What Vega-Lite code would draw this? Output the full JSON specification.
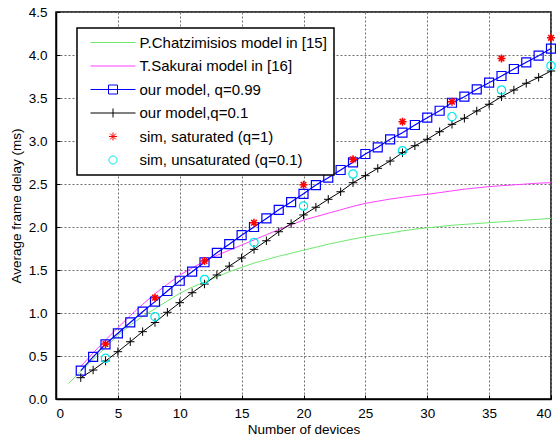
{
  "$schema": "https://vega.github.io/schema/vega-lite/v6.json",
  "width": 495,
  "height": 387,
  "autosize": {"type": "none"},
  "padding": {"left": 56, "top": 12, "right": 5, "bottom": 41},
  "background": "white",
  "config": {
    "font": "Liberation Sans",
    "view": {"stroke": "black", "strokeWidth": 1.5},
    "axis": {
      "grid": true, "gridColor": "#6e6e6e", "gridDash": [2, 2], "gridWidth": 1, "gridOpacity": 1,
      "domainColor": "black", "domainWidth": 1.5, "tickColor": "black", "tickSize": -4,
      "labelColor": "black", "titleColor": "black", "labelFontSize": 13.5, "titleFontSize": 13.5,
      "titleFontWeight": "normal", "labelFont": "Liberation Sans", "titleFont": "Liberation Sans"
    },
    "legend": {"strokeWidth": 1.5}
  },
  "datasets": {
    "d": [
      {"series": "P.Chatzimisios model in [15]", "n": 1, "delay": 0.18},
      {"series": "P.Chatzimisios model in [15]", "n": 2, "delay": 0.32},
      {"series": "P.Chatzimisios model in [15]", "n": 3, "delay": 0.46},
      {"series": "P.Chatzimisios model in [15]", "n": 4, "delay": 0.6},
      {"series": "P.Chatzimisios model in [15]", "n": 5, "delay": 0.74},
      {"series": "P.Chatzimisios model in [15]", "n": 6, "delay": 0.86},
      {"series": "P.Chatzimisios model in [15]", "n": 7, "delay": 0.96},
      {"series": "P.Chatzimisios model in [15]", "n": 8, "delay": 1.05},
      {"series": "P.Chatzimisios model in [15]", "n": 9, "delay": 1.14},
      {"series": "P.Chatzimisios model in [15]", "n": 10, "delay": 1.23},
      {"series": "P.Chatzimisios model in [15]", "n": 11, "delay": 1.3},
      {"series": "P.Chatzimisios model in [15]", "n": 12, "delay": 1.36},
      {"series": "P.Chatzimisios model in [15]", "n": 13, "delay": 1.42},
      {"series": "P.Chatzimisios model in [15]", "n": 14, "delay": 1.48},
      {"series": "P.Chatzimisios model in [15]", "n": 15, "delay": 1.53},
      {"series": "P.Chatzimisios model in [15]", "n": 16, "delay": 1.58},
      {"series": "P.Chatzimisios model in [15]", "n": 17, "delay": 1.62},
      {"series": "P.Chatzimisios model in [15]", "n": 18, "delay": 1.66},
      {"series": "P.Chatzimisios model in [15]", "n": 19, "delay": 1.695},
      {"series": "P.Chatzimisios model in [15]", "n": 20, "delay": 1.73},
      {"series": "P.Chatzimisios model in [15]", "n": 21, "delay": 1.765},
      {"series": "P.Chatzimisios model in [15]", "n": 22, "delay": 1.8},
      {"series": "P.Chatzimisios model in [15]", "n": 23, "delay": 1.83},
      {"series": "P.Chatzimisios model in [15]", "n": 24, "delay": 1.86},
      {"series": "P.Chatzimisios model in [15]", "n": 25, "delay": 1.887},
      {"series": "P.Chatzimisios model in [15]", "n": 26, "delay": 1.91},
      {"series": "P.Chatzimisios model in [15]", "n": 27, "delay": 1.93},
      {"series": "P.Chatzimisios model in [15]", "n": 28, "delay": 1.955},
      {"series": "P.Chatzimisios model in [15]", "n": 29, "delay": 1.975},
      {"series": "P.Chatzimisios model in [15]", "n": 30, "delay": 1.99},
      {"series": "P.Chatzimisios model in [15]", "n": 31, "delay": 2.005},
      {"series": "P.Chatzimisios model in [15]", "n": 32, "delay": 2.02},
      {"series": "P.Chatzimisios model in [15]", "n": 33, "delay": 2.03},
      {"series": "P.Chatzimisios model in [15]", "n": 34, "delay": 2.04},
      {"series": "P.Chatzimisios model in [15]", "n": 35, "delay": 2.05},
      {"series": "P.Chatzimisios model in [15]", "n": 36, "delay": 2.06},
      {"series": "P.Chatzimisios model in [15]", "n": 37, "delay": 2.07},
      {"series": "P.Chatzimisios model in [15]", "n": 38, "delay": 2.08},
      {"series": "P.Chatzimisios model in [15]", "n": 39, "delay": 2.09},
      {"series": "P.Chatzimisios model in [15]", "n": 40, "delay": 2.1},
      {"series": "T.Sakurai model in [16]", "n": 2, "delay": 0.38},
      {"series": "T.Sakurai model in [16]", "n": 3, "delay": 0.535},
      {"series": "T.Sakurai model in [16]", "n": 4, "delay": 0.685},
      {"series": "T.Sakurai model in [16]", "n": 5, "delay": 0.83},
      {"series": "T.Sakurai model in [16]", "n": 6, "delay": 0.97},
      {"series": "T.Sakurai model in [16]", "n": 7, "delay": 1.1},
      {"series": "T.Sakurai model in [16]", "n": 8, "delay": 1.225},
      {"series": "T.Sakurai model in [16]", "n": 9, "delay": 1.335},
      {"series": "T.Sakurai model in [16]", "n": 10, "delay": 1.44},
      {"series": "T.Sakurai model in [16]", "n": 11, "delay": 1.525},
      {"series": "T.Sakurai model in [16]", "n": 12, "delay": 1.6},
      {"series": "T.Sakurai model in [16]", "n": 13, "delay": 1.67},
      {"series": "T.Sakurai model in [16]", "n": 14, "delay": 1.73},
      {"series": "T.Sakurai model in [16]", "n": 15, "delay": 1.79},
      {"series": "T.Sakurai model in [16]", "n": 16, "delay": 1.85},
      {"series": "T.Sakurai model in [16]", "n": 17, "delay": 1.91},
      {"series": "T.Sakurai model in [16]", "n": 18, "delay": 1.97},
      {"series": "T.Sakurai model in [16]", "n": 19, "delay": 2.025},
      {"series": "T.Sakurai model in [16]", "n": 20, "delay": 2.08},
      {"series": "T.Sakurai model in [16]", "n": 21, "delay": 2.12},
      {"series": "T.Sakurai model in [16]", "n": 22, "delay": 2.16},
      {"series": "T.Sakurai model in [16]", "n": 23, "delay": 2.2},
      {"series": "T.Sakurai model in [16]", "n": 24, "delay": 2.24},
      {"series": "T.Sakurai model in [16]", "n": 25, "delay": 2.275},
      {"series": "T.Sakurai model in [16]", "n": 26, "delay": 2.3},
      {"series": "T.Sakurai model in [16]", "n": 27, "delay": 2.325},
      {"series": "T.Sakurai model in [16]", "n": 28, "delay": 2.345},
      {"series": "T.Sakurai model in [16]", "n": 29, "delay": 2.365},
      {"series": "T.Sakurai model in [16]", "n": 30, "delay": 2.38},
      {"series": "T.Sakurai model in [16]", "n": 31, "delay": 2.4},
      {"series": "T.Sakurai model in [16]", "n": 32, "delay": 2.42},
      {"series": "T.Sakurai model in [16]", "n": 33, "delay": 2.44},
      {"series": "T.Sakurai model in [16]", "n": 34, "delay": 2.455},
      {"series": "T.Sakurai model in [16]", "n": 35, "delay": 2.47},
      {"series": "T.Sakurai model in [16]", "n": 36, "delay": 2.48},
      {"series": "T.Sakurai model in [16]", "n": 37, "delay": 2.49},
      {"series": "T.Sakurai model in [16]", "n": 38, "delay": 2.5},
      {"series": "T.Sakurai model in [16]", "n": 39, "delay": 2.51},
      {"series": "T.Sakurai model in [16]", "n": 40, "delay": 2.515},
      {"series": "our model, q=0.99", "n": 2, "delay": 0.33},
      {"series": "our model, q=0.99", "n": 3, "delay": 0.49},
      {"series": "our model, q=0.99", "n": 4, "delay": 0.636},
      {"series": "our model, q=0.99", "n": 5, "delay": 0.764},
      {"series": "our model, q=0.99", "n": 6, "delay": 0.89},
      {"series": "our model, q=0.99", "n": 7, "delay": 1.015},
      {"series": "our model, q=0.99", "n": 8, "delay": 1.132},
      {"series": "our model, q=0.99", "n": 9, "delay": 1.256},
      {"series": "our model, q=0.99", "n": 10, "delay": 1.375},
      {"series": "our model, q=0.99", "n": 11, "delay": 1.48},
      {"series": "our model, q=0.99", "n": 12, "delay": 1.59},
      {"series": "our model, q=0.99", "n": 13, "delay": 1.7},
      {"series": "our model, q=0.99", "n": 14, "delay": 1.8},
      {"series": "our model, q=0.99", "n": 15, "delay": 1.905},
      {"series": "our model, q=0.99", "n": 16, "delay": 2.0},
      {"series": "our model, q=0.99", "n": 17, "delay": 2.1},
      {"series": "our model, q=0.99", "n": 18, "delay": 2.2},
      {"series": "our model, q=0.99", "n": 19, "delay": 2.29},
      {"series": "our model, q=0.99", "n": 20, "delay": 2.386},
      {"series": "our model, q=0.99", "n": 21, "delay": 2.488},
      {"series": "our model, q=0.99", "n": 22, "delay": 2.573},
      {"series": "our model, q=0.99", "n": 23, "delay": 2.663},
      {"series": "our model, q=0.99", "n": 24, "delay": 2.752},
      {"series": "our model, q=0.99", "n": 25, "delay": 2.849},
      {"series": "our model, q=0.99", "n": 26, "delay": 2.927},
      {"series": "our model, q=0.99", "n": 27, "delay": 3.02},
      {"series": "our model, q=0.99", "n": 28, "delay": 3.097},
      {"series": "our model, q=0.99", "n": 29, "delay": 3.186},
      {"series": "our model, q=0.99", "n": 30, "delay": 3.271},
      {"series": "our model, q=0.99", "n": 31, "delay": 3.352},
      {"series": "our model, q=0.99", "n": 32, "delay": 3.445},
      {"series": "our model, q=0.99", "n": 33, "delay": 3.515},
      {"series": "our model, q=0.99", "n": 34, "delay": 3.601},
      {"series": "our model, q=0.99", "n": 35, "delay": 3.678},
      {"series": "our model, q=0.99", "n": 36, "delay": 3.756},
      {"series": "our model, q=0.99", "n": 37, "delay": 3.837},
      {"series": "our model, q=0.99", "n": 38, "delay": 3.915},
      {"series": "our model, q=0.99", "n": 39, "delay": 3.992},
      {"series": "our model, q=0.99", "n": 40, "delay": 4.075},
      {"series": "our model,q=0.1", "n": 2, "delay": 0.248},
      {"series": "our model,q=0.1", "n": 3, "delay": 0.337},
      {"series": "our model,q=0.1", "n": 4, "delay": 0.442},
      {"series": "our model,q=0.1", "n": 5, "delay": 0.55},
      {"series": "our model,q=0.1", "n": 6, "delay": 0.666},
      {"series": "our model,q=0.1", "n": 7, "delay": 0.783},
      {"series": "our model,q=0.1", "n": 8, "delay": 0.89},
      {"series": "our model,q=0.1", "n": 9, "delay": 1.008},
      {"series": "our model,q=0.1", "n": 10, "delay": 1.12},
      {"series": "our model,q=0.1", "n": 11, "delay": 1.236},
      {"series": "our model,q=0.1", "n": 12, "delay": 1.337},
      {"series": "our model,q=0.1", "n": 13, "delay": 1.442},
      {"series": "our model,q=0.1", "n": 14, "delay": 1.545},
      {"series": "our model,q=0.1", "n": 15, "delay": 1.64},
      {"series": "our model,q=0.1", "n": 16, "delay": 1.74},
      {"series": "our model,q=0.1", "n": 17, "delay": 1.84},
      {"series": "our model,q=0.1", "n": 18, "delay": 1.945},
      {"series": "our model,q=0.1", "n": 19, "delay": 2.04},
      {"series": "our model,q=0.1", "n": 20, "delay": 2.14},
      {"series": "our model,q=0.1", "n": 21, "delay": 2.23},
      {"series": "our model,q=0.1", "n": 22, "delay": 2.322},
      {"series": "our model,q=0.1", "n": 23, "delay": 2.41},
      {"series": "our model,q=0.1", "n": 24, "delay": 2.515},
      {"series": "our model,q=0.1", "n": 25, "delay": 2.597},
      {"series": "our model,q=0.1", "n": 26, "delay": 2.682},
      {"series": "our model,q=0.1", "n": 27, "delay": 2.767},
      {"series": "our model,q=0.1", "n": 28, "delay": 2.864},
      {"series": "our model,q=0.1", "n": 29, "delay": 2.945},
      {"series": "our model,q=0.1", "n": 30, "delay": 3.02},
      {"series": "our model,q=0.1", "n": 31, "delay": 3.108},
      {"series": "our model,q=0.1", "n": 32, "delay": 3.194},
      {"series": "our model,q=0.1", "n": 33, "delay": 3.264},
      {"series": "our model,q=0.1", "n": 34, "delay": 3.349},
      {"series": "our model,q=0.1", "n": 35, "delay": 3.427},
      {"series": "our model,q=0.1", "n": 36, "delay": 3.515},
      {"series": "our model,q=0.1", "n": 37, "delay": 3.593},
      {"series": "our model,q=0.1", "n": 38, "delay": 3.671},
      {"series": "our model,q=0.1", "n": 39, "delay": 3.74},
      {"series": "our model,q=0.1", "n": 40, "delay": 3.814},
      {"series": "sim, saturated (q=1)", "n": 4, "delay": 0.64},
      {"series": "sim, saturated (q=1)", "n": 8, "delay": 1.178},
      {"series": "sim, saturated (q=1)", "n": 12, "delay": 1.605},
      {"series": "sim, saturated (q=1)", "n": 16, "delay": 2.05},
      {"series": "sim, saturated (q=1)", "n": 20, "delay": 2.49},
      {"series": "sim, saturated (q=1)", "n": 24, "delay": 2.787},
      {"series": "sim, saturated (q=1)", "n": 28, "delay": 3.225},
      {"series": "sim, saturated (q=1)", "n": 32, "delay": 3.457},
      {"series": "sim, saturated (q=1)", "n": 36, "delay": 3.96},
      {"series": "sim, saturated (q=1)", "n": 40, "delay": 4.2},
      {"series": "sim, unsaturated (q=0.1)", "n": 4, "delay": 0.473},
      {"series": "sim, unsaturated (q=0.1)", "n": 8, "delay": 0.957},
      {"series": "sim, unsaturated (q=0.1)", "n": 12, "delay": 1.39},
      {"series": "sim, unsaturated (q=0.1)", "n": 16, "delay": 1.82},
      {"series": "sim, unsaturated (q=0.1)", "n": 20, "delay": 2.244},
      {"series": "sim, unsaturated (q=0.1)", "n": 24, "delay": 2.616},
      {"series": "sim, unsaturated (q=0.1)", "n": 28, "delay": 2.887},
      {"series": "sim, unsaturated (q=0.1)", "n": 32, "delay": 3.283},
      {"series": "sim, unsaturated (q=0.1)", "n": 36, "delay": 3.593},
      {"series": "sim, unsaturated (q=0.1)", "n": 40, "delay": 3.876}
    ]
  },
  "data": {"name": "d"},
  "encoding": {
    "x": {"field": "n", "type": "quantitative", "scale": {"domain": [0, 40], "nice": false},
      "axis": {"values": [0, 5, 10, 15, 20, 25, 30, 35, 40], "title": "Number of devices", "labelPadding": 11, "titlePadding": 3}},
    "y": {"field": "delay", "type": "quantitative", "scale": {"domain": [0, 4.5], "nice": false},
      "axis": {"values": [0, 0.5, 1, 1.5, 2, 2.5, 3, 3.5, 4, 4.5], "title": "Average frame delay (ms)", "labelPadding": 13, "titlePadding": 5}}
  },
  "layer": [
    {"transform": [{"filter": "datum.series === 'P.Chatzimisios model in [15]'"}],
      "mark": {"type": "line", "color": "#6ee86e", "strokeWidth": 1}},
    {"transform": [{"filter": "datum.series === 'T.Sakurai model in [16]'"}],
      "mark": {"type": "line", "color": "#ff40ff", "strokeWidth": 1}},
    {"transform": [{"filter": "datum.series === 'our model, q=0.99'"}],
      "mark": {"type": "line", "color": "#0000ff", "strokeWidth": 1.2}},
    {"transform": [{"filter": "datum.series === 'our model,q=0.1'"}],
      "mark": {"type": "line", "color": "#000000", "strokeWidth": 1}},
    {"transform": [{"filter": "datum.series === 'our model, q=0.99'"}],
      "mark": {"type": "point", "shape": "square", "filled": false, "color": "#0000ff", "size": 81, "strokeWidth": 1.2, "opacity": 1}},
    {"transform": [{"filter": "datum.series === 'our model,q=0.1'"}],
      "mark": {"type": "point", "shape": "M-1,0L1,0M0,-1L0,1", "filled": false, "color": "#000000", "size": 72, "strokeWidth": 1, "opacity": 1}},
    {"transform": [{"filter": "datum.series === 'sim, saturated (q=1)'"}],
      "mark": {"type": "point", "shape": "M-1,0L1,0M0,-1L0,1M-0.7,-0.7L0.7,0.7M-0.7,0.7L0.7,-0.7", "filled": false, "color": "#ff0000", "size": 64, "strokeWidth": 1.5, "opacity": 1}},
    {"transform": [{"filter": "datum.series === 'sim, unsaturated (q=0.1)'"}],
      "mark": {"type": "point", "shape": "circle", "filled": false, "color": "#00e8f0", "size": 70, "strokeWidth": 1.2, "opacity": 1}},
    {
      "mark": {"type": "point", "filled": false, "opacity": 0},
      "encoding": {
        "color": {"field": "series", "type": "nominal",
          "scale": {"domain": ["P.Chatzimisios model in [15]", "T.Sakurai model in [16]", "our model, q=0.99", "our model,q=0.1", "sim, saturated (q=1)", "sim, unsaturated (q=0.1)"],
            "range": ["#6ee86e", "#ff40ff", "#0000ff", "#000000", "#ff0000", "#00e8f0"]},
          "legend": {"title": null, "orient": "none", "legendX": 21, "legendY": 16, "strokeColor": "black", "fillColor": "white",
            "padding": 7, "symbolSize": 81, "symbolStrokeWidth": 1, "symbolOffset": 21.5, "labelOffset": 19,
            "labelFontSize": 15, "labelFont": "Liberation Sans", "labelColor": "black", "rowPadding": 7.5, "symbolOpacity": 1, "labelLimit": 400}},
        "shape": {"field": "series", "type": "nominal",
          "scale": {"domain": ["P.Chatzimisios model in [15]", "T.Sakurai model in [16]", "our model, q=0.99", "our model,q=0.1", "sim, saturated (q=1)", "sim, unsaturated (q=0.1)"],
            "range": ["M-5,0L5,0", "M-5,0L5,0", "M-5,0L5,0M-1,-1L1,-1L1,1L-1,1Z", "M-5,0L5,0M0,-1L0,1", "M-0.9,0L0.9,0M0,-0.9L0,0.9M-0.65,-0.65L0.65,0.65M-0.65,0.65L0.65,-0.65", "M0.9,0A0.9,0.9 0 1,1 -0.9,0A0.9,0.9 0 1,1 0.9,0Z"]},
          "legend": {"title": null, "orient": "none", "legendX": 21, "legendY": 16, "strokeColor": "black", "fillColor": "white",
            "padding": 7, "symbolSize": 81, "symbolStrokeWidth": 1, "symbolOffset": 21.5, "labelOffset": 19,
            "labelFontSize": 15, "labelFont": "Liberation Sans", "labelColor": "black", "rowPadding": 7.5, "symbolOpacity": 1, "labelLimit": 400}}
      }
    }
  ]
}
